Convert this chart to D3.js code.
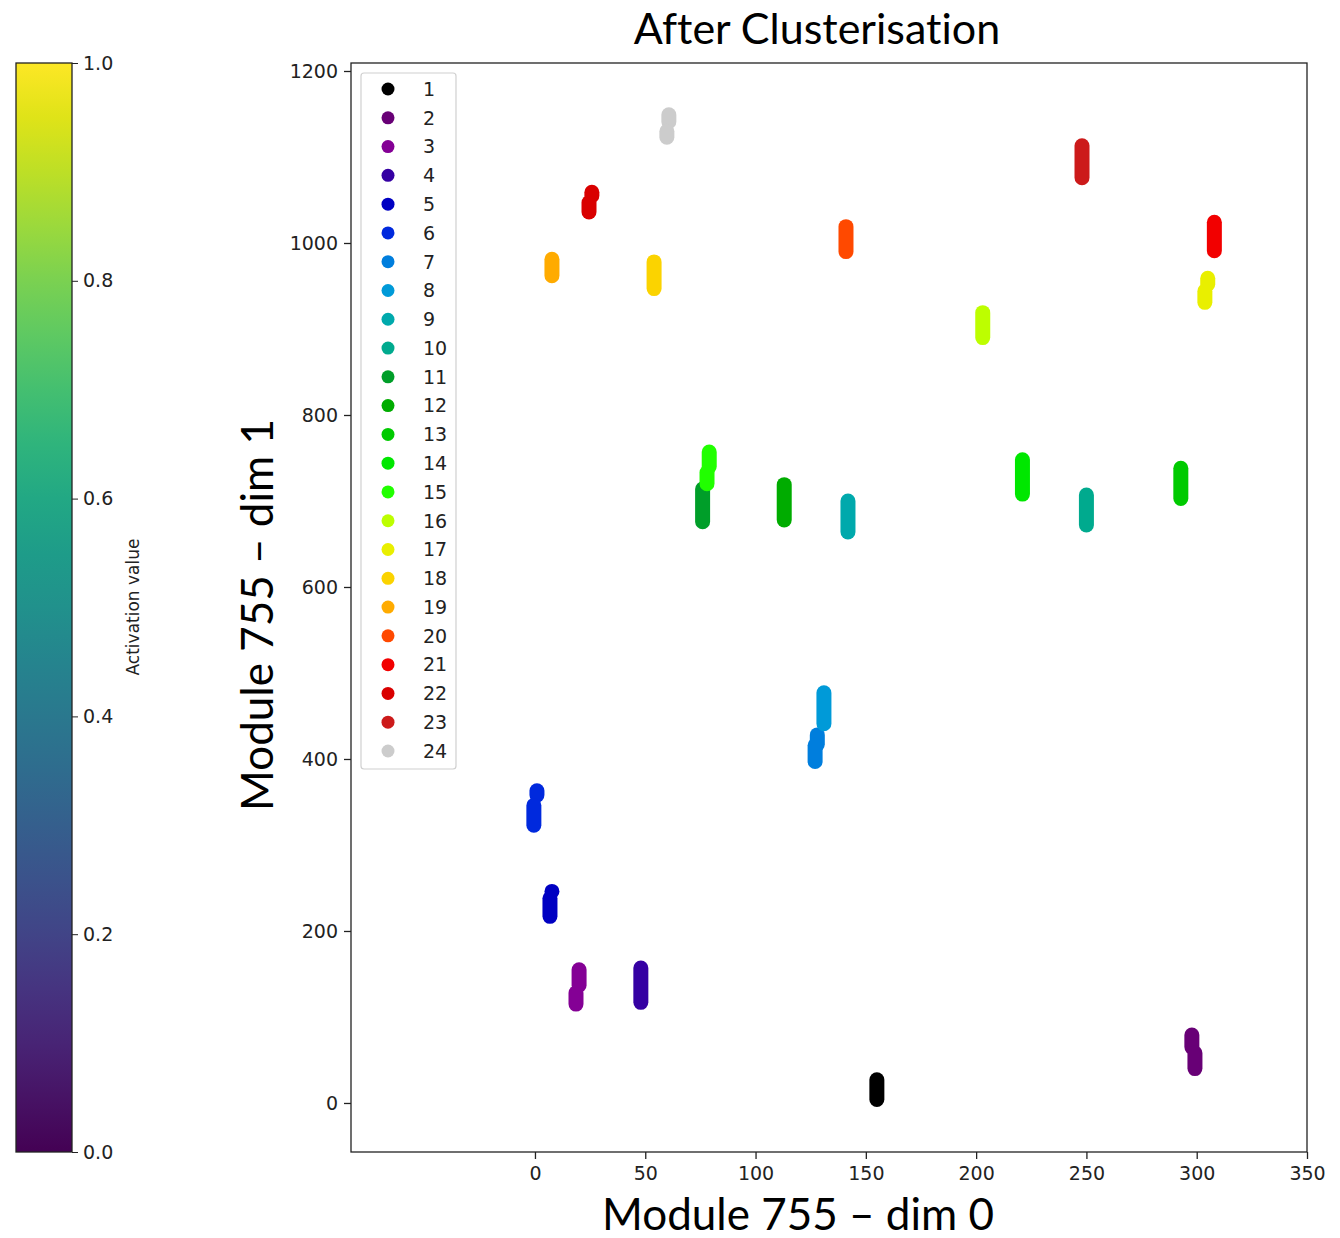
<!DOCTYPE html>
<meta charset="utf-8">
<style>
body { margin: 0; background: #fff; }
text { font-family: "DejaVu Sans", sans-serif; fill: #222; }
.big { font-family: Lato, "Open Sans", sans-serif; fill: #000; font-variant-ligatures: none; }
.axis path, .axis line { stroke: #222; }
</style>
<svg width="1340" height="1238"></svg>
<script src="https://d3js.org/d3.v7.min.js"></script>
<script>

// cluster labels and their colours (nipy_spectral sampled)
var labels = ["1","2","3","4","5","6","7","8","9","10","11","12",
              "13","14","15","16","17","18","19","20","21","22","23","24"];
var colors = ["#000000","#680076","#840095","#3500a3","#0000c2","#0029dd",
              "#007edd","#009ad8","#00a9ac","#00aa8e","#009e29","#00ac00",
              "#00ca00","#00e700","#21ff00","#bdfe00","#e9ef00","#fbd300",
              "#ffab00","#ff4900","#f20000","#d90000","#cc1a1a","#cccccc"];

// each cluster: runs of points [dim0, dim1 from, dim1 to]
var strips = [
  [[155, 4, 27]],
  [[297.8, 65, 79], [299.2, 40, 58]],
  [[20, 137, 155], [18.6, 115, 128]],
  [[48, 117, 157]],
  [[7.7, 246, 246], [6.8, 217, 238]],
  [[0.9, 358, 363], [-0.5, 323, 346]],
  [[128, 417, 428], [127, 397, 416]],
  [[131, 441, 477]],
  [[141.9, 664, 700]],
  [[250, 672, 707]],
  [[76, 676, 714]],
  [[113, 678, 719]],
  [[292.8, 703, 738]],
  [[221, 708, 748]],
  [[79, 740, 757], [78, 720, 733]],
  [[203, 890, 919]],
  [[305, 952, 959], [303.7, 931, 944]],
  [[54, 947, 978]],
  [[7.7, 962, 981]],
  [[141, 990, 1019]],
  [[308, 991, 1024]],
  [[25.8, 1055, 1059], [24.5, 1036, 1047]],
  [[248, 1076, 1113]],
  [[60.7, 1141, 1149], [59.8, 1123, 1130]]
];

var xTicks = [0, 50, 100, 150, 200, 250, 300, 350];
var yTicks = [0, 200, 400, 600, 800, 1000, 1200];
var cbTicks = [0.0, 0.2, 0.4, 0.6, 0.8, 1.0];

var svg = d3.select("svg");

// main axes box
var L = 351, R = 1307, T = 63, B = 1152;
var x = d3.scaleLinear().domain([-83.4, 350]).range([L, R]);
var y = d3.scaleLinear().domain([-57, 1209.3]).range([B, T]);

var strip = d3.line().x(function(d){ return x(d[0]); }).y(function(d){ return y(d[1]); });

var g = svg.append("g");
strips.forEach(function(runs, i) {
  runs.forEach(function(r) {
    g.append("path")
      .attr("d", strip([[r[0], r[1]], [r[0], r[2]]]))
      .attr("stroke", colors[i])
      .attr("stroke-width", 15)
      .attr("stroke-linecap", "round")
      .attr("fill", "none");
  });
});

svg.append("rect")
  .attr("x", L).attr("y", T).attr("width", R - L).attr("height", B - T)
  .attr("fill", "none").attr("stroke", "#222").attr("stroke-width", 1.3);

var xAxis = svg.append("g").attr("class", "axis")
  .attr("transform", "translate(0," + B + ")")
  .call(d3.axisBottom(x).tickValues(xTicks).tickFormat(d3.format("d")).tickSize(7).tickPadding(8));
var yAxis = svg.append("g").attr("class", "axis")
  .attr("transform", "translate(" + L + ",0)")
  .call(d3.axisLeft(y).tickValues(yTicks).tickFormat(d3.format("d")).tickSize(7).tickPadding(6));
svg.selectAll(".axis .domain").remove();
svg.selectAll(".axis text").style("font-size", "19px").style("font-family", "DejaVu Sans").attr("fill", "#222");
svg.selectAll(".axis line").attr("stroke-width", 1.3);

// legend
var lg = svg.append("g");
lg.append("rect")
  .attr("x", 361).attr("y", 73).attr("width", 95).attr("height", 696)
  .attr("rx", 3).attr("fill", "#fff").attr("fill-opacity", 0.8)
  .attr("stroke", "#d0d0d0").attr("stroke-width", 1.2);
var ly = d3.scalePoint().domain(labels).range([89, 751]);
labels.forEach(function(l, i) {
  lg.append("circle").attr("cx", 388).attr("cy", ly(l)).attr("r", 6.5).attr("fill", colors[i]);
  lg.append("text").attr("x", 423).attr("y", ly(l)).attr("dy", "0.36em")
    .style("font-size", "19px").text(l);
});

// colour bar
var cbX = 16, cbW = 56;
var cb = d3.scaleLinear().domain([0, 1]).range([B, T]);
var grad = svg.append("defs").append("linearGradient")
  .attr("id", "vir").attr("x1", 0).attr("y1", 1).attr("x2", 0).attr("y2", 0);
d3.range(0, 1.0001, 0.05).forEach(function(t) {
  grad.append("stop").attr("offset", t).attr("stop-color", d3.interpolateViridis(t));
});
svg.append("rect").attr("x", cbX).attr("y", T).attr("width", cbW).attr("height", B - T)
  .attr("fill", "url(#vir)").attr("stroke", "#222").attr("stroke-width", 1.3);
var cbAxis = svg.append("g").attr("class", "axis")
  .attr("transform", "translate(" + (cbX + cbW) + ",0)")
  .call(d3.axisRight(cb).tickValues(cbTicks).tickFormat(d3.format(".1f")).tickSize(6).tickPadding(5));
cbAxis.select(".domain").remove();
cbAxis.selectAll("text").style("font-size", "19px").style("font-family", "DejaVu Sans").attr("fill", "#222");
svg.append("text")
  .attr("transform", "translate(139,607) rotate(-90)")
  .attr("text-anchor", "middle")
  .style("font-size", "17px")
  .text("Activation value");

// titles
svg.append("text").attr("class", "big")
  .attr("x", 817).attr("y", 44).attr("text-anchor", "middle")
  .style("font-size", "43px").text("After Clusterisation");
svg.append("text").attr("class", "big")
  .attr("x", 798).attr("y", 1230).attr("text-anchor", "middle")
  .style("font-size", "44px").text("Module 755 \u2013 dim 0");
svg.append("text").attr("class", "big")
  .attr("transform", "translate(273,615) rotate(-90)")
  .attr("text-anchor", "middle")
  .style("font-size", "44px").text("Module 755 \u2013 dim 1");

</script>
